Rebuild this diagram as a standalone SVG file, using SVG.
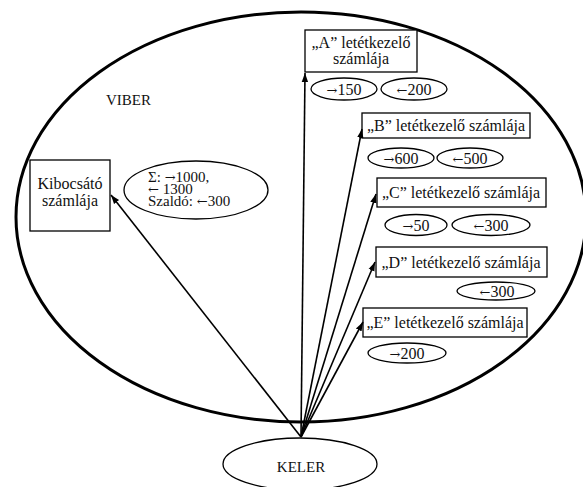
<svg xmlns="http://www.w3.org/2000/svg" width="583" height="487" viewBox="0 0 583 487">
<defs>
<marker id="ah" markerWidth="10" markerHeight="8" refX="9" refY="4" orient="auto" markerUnits="userSpaceOnUse">
<path d="M0,0.8 L9,4 L0,7.2 Z" fill="#000"/>
</marker>
<style>
text{font-family:"Liberation Serif","Times New Roman",serif;font-size:16px;fill:#111}
.c{text-anchor:middle}
.ar{font-family:"DejaVu Serif",serif;font-size:13px}
.box{fill:#fff;stroke:#000;stroke-width:1.3}
.ov{fill:#fff;stroke:#000;stroke-width:1.3}
.ln{stroke:#000;stroke-width:1.6;fill:none;marker-end:url(#ah)}
</style>
</defs>
<rect width="583" height="487" fill="#fff"/>
<g id="viber">
<ellipse cx="301" cy="217" rx="285" ry="205" fill="none" stroke="#000" stroke-width="3"/>
<text x="106" y="105" style="font-size:15px">VIBER</text>
</g>
<g id="keler">
<ellipse cx="300" cy="464" rx="77" ry="26" class="ov"/>
<text x="301" y="472" class="c" style="font-size:15px">KELER</text>
</g>
<g id="kibocsato">
<rect x="30" y="160" width="80" height="71" class="box"/>
<text x="70" y="189" class="c">Kibocsátó</text>
<text x="70" y="206" class="c">számlája</text>
</g>
<g id="sum">
<ellipse cx="196" cy="190" rx="72" ry="29" class="ov"/>
<text x="148" y="182" style="font-size:15px">Σ: <tspan class="ar">→</tspan>1000,</text>
<text x="148" y="194" style="font-size:15px"><tspan class="ar">←</tspan> 1300</text>
<text x="148" y="206" style="font-size:15px">Szaldó: <tspan class="ar">←</tspan>300</text>
</g>
<g id="a">
<rect x="305" y="30" width="112" height="42" class="box"/>
<text x="361" y="48" class="c">„A” letétkezelő</text>
<text x="361" y="64" class="c">számlája</text>
<ellipse cx="344" cy="89" rx="33" ry="11" class="ov"/>
<text x="344" y="95" class="c"><tspan class="ar">→</tspan>150</text>
<ellipse cx="414" cy="89" rx="33" ry="11" class="ov"/>
<text x="414" y="95" class="c"><tspan class="ar">←</tspan>200</text>
</g>
<g id="b">
<rect x="362" y="113" width="168" height="25" class="box"/>
<text x="446" y="131" class="c">„B” letétkezelő számlája</text>
<ellipse cx="401" cy="158" rx="33" ry="10" class="ov"/>
<text x="401" y="164" class="c"><tspan class="ar">→</tspan>600</text>
<ellipse cx="470" cy="158" rx="33" ry="10" class="ov"/>
<text x="470" y="164" class="c"><tspan class="ar">←</tspan>500</text>
</g>
<g id="c">
<rect x="377" y="178" width="169" height="29" class="box"/>
<text x="461" y="198" class="c">„C” letétkezelő számlája</text>
<ellipse cx="416" cy="225" rx="31" ry="10.5" class="ov"/>
<text x="416" y="231" class="c"><tspan class="ar">→</tspan>50</text>
<ellipse cx="491" cy="225" rx="39" ry="10.5" class="ov"/>
<text x="491" y="231" class="c"><tspan class="ar">←</tspan>300</text>
</g>
<g id="d">
<rect x="376" y="247" width="171" height="30" class="box"/>
<text x="461" y="268" class="c">„D” letétkezelő számlája</text>
<ellipse cx="496" cy="291" rx="39" ry="9" class="ov"/>
<text x="497" y="297" class="c"><tspan class="ar">←</tspan>300</text>
</g>
<g id="e">
<rect x="363" y="308" width="164" height="29" class="box"/>
<text x="445" y="328" class="c">„E” letétkezelő számlája</text>
<ellipse cx="407" cy="353" rx="39" ry="10" class="ov"/>
<text x="407" y="359" class="c"><tspan class="ar">→</tspan>200</text>
</g>
<g id="connectors">
<line x1="301" y1="437" x2="111" y2="195" class="ln"/>
<line x1="301" y1="437" x2="305" y2="73" class="ln"/>
<line x1="301" y1="437" x2="362" y2="129" class="ln"/>
<line x1="301" y1="437" x2="376" y2="194" class="ln"/>
<line x1="301" y1="437" x2="375" y2="262" class="ln"/>
<line x1="301" y1="437" x2="363" y2="322" class="ln"/>
</g>
</svg>
